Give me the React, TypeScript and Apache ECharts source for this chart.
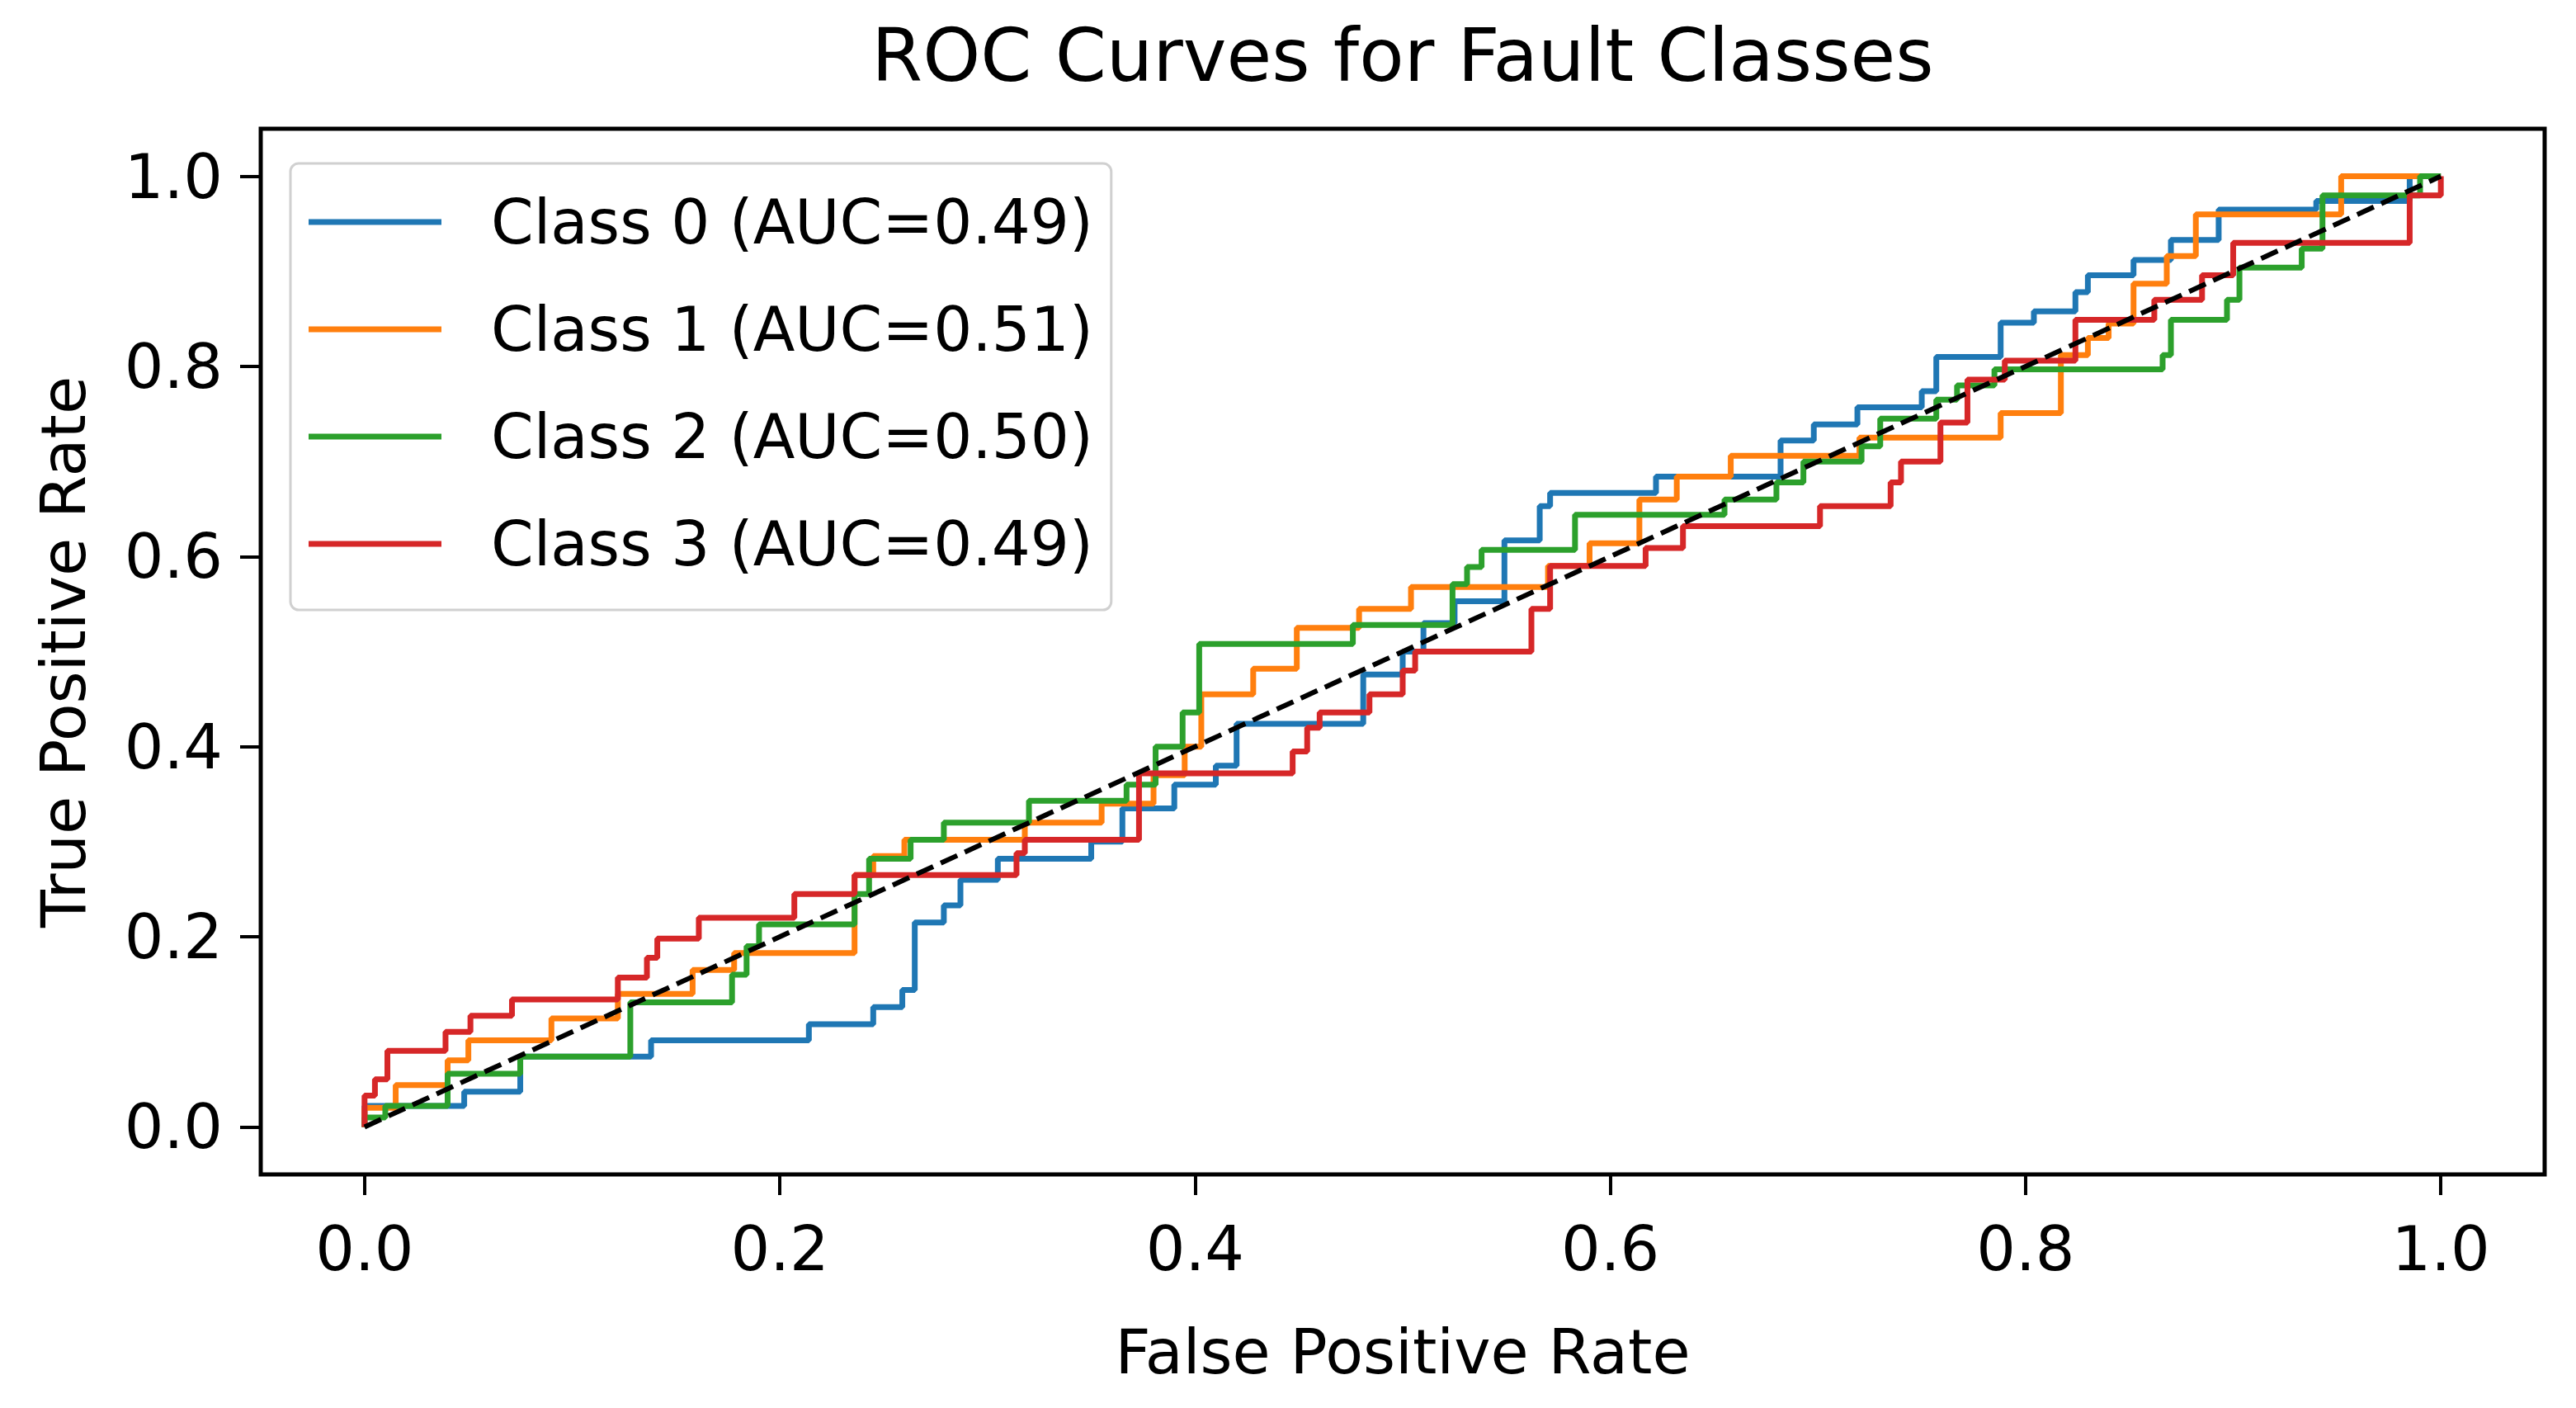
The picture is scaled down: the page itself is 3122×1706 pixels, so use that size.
import React, { useEffect, useRef } from "react";
import * as echarts from "echarts";

const titleText = "ROC Curves for Fault Classes";
const xAxisTitle = "False Positive Rate";
const yAxisTitle = "True Positive Rate";
const classNames = [
  "Class 0 (AUC=0.49)",
  "Class 1 (AUC=0.51)",
  "Class 2 (AUC=0.50)",
  "Class 3 (AUC=0.49)",
];
const classColors = ["#1f77b4", "#ff7f0e", "#2ca02c", "#d62728"];
const tickValues = [0, 0.2, 0.4, 0.6, 0.8, 1.0];

// Each class: FPR where TPR jumps, and the TPR level reached at that FPR
const class0JumpFpr = [0, 0.048, 0.075, 0.138, 0.214, 0.245, 0.259, 0.265, 0.279, 0.287, 0.305, 0.35, 0.365, 0.39, 0.41, 0.42, 0.481, 0.5, 0.51, 0.525, 0.549, 0.566, 0.571, 0.622, 0.682, 0.698, 0.719, 0.75, 0.757, 0.788, 0.804, 0.824, 0.83, 0.852, 0.87, 0.893, 0.94, 0.985];
const class0Tpr = [0.022, 0.037, 0.074, 0.091, 0.108, 0.126, 0.144, 0.215, 0.233, 0.26, 0.282, 0.3, 0.335, 0.36, 0.38, 0.424, 0.476, 0.5, 0.53, 0.553, 0.617, 0.653, 0.667, 0.684, 0.722, 0.739, 0.757, 0.774, 0.81, 0.846, 0.858, 0.878, 0.896, 0.912, 0.933, 0.965, 0.974, 1.0];

const class1JumpFpr = [0, 0.015, 0.04, 0.05, 0.09, 0.122, 0.158, 0.178, 0.236, 0.245, 0.26, 0.318, 0.355, 0.38, 0.395, 0.403, 0.428, 0.449, 0.479, 0.504, 0.57, 0.59, 0.614, 0.632, 0.658, 0.72, 0.788, 0.817, 0.83, 0.84, 0.852, 0.868, 0.882, 0.952];
const class1Tpr = [0.02, 0.044, 0.07, 0.091, 0.114, 0.14, 0.165, 0.183, 0.265, 0.285, 0.302, 0.32, 0.34, 0.37, 0.4, 0.455, 0.482, 0.525, 0.545, 0.568, 0.59, 0.614, 0.66, 0.684, 0.706, 0.725, 0.751, 0.812, 0.83, 0.845, 0.887, 0.916, 0.96, 1.0];

const class2JumpFpr = [0, 0.01, 0.04, 0.075, 0.128, 0.177, 0.184, 0.19, 0.236, 0.243, 0.263, 0.279, 0.32, 0.367, 0.381, 0.394, 0.402, 0.476, 0.524, 0.531, 0.538, 0.583, 0.655, 0.68, 0.693, 0.721, 0.73, 0.757, 0.767, 0.785, 0.866, 0.87, 0.897, 0.903, 0.933, 0.943, 0.99];
const class2Tpr = [0.01, 0.022, 0.056, 0.074, 0.131, 0.16, 0.19, 0.213, 0.245, 0.282, 0.302, 0.32, 0.343, 0.36, 0.4, 0.436, 0.508, 0.528, 0.571, 0.589, 0.607, 0.644, 0.66, 0.678, 0.7, 0.716, 0.745, 0.765, 0.78, 0.797, 0.812, 0.849, 0.87, 0.904, 0.924, 0.98, 1.0];

const class3JumpFpr = [0, 0.005, 0.011, 0.039, 0.051, 0.071, 0.122, 0.136, 0.141, 0.161, 0.207, 0.236, 0.314, 0.318, 0.373, 0.447, 0.454, 0.46, 0.484, 0.5, 0.506, 0.562, 0.571, 0.617, 0.635, 0.701, 0.735, 0.74, 0.759, 0.772, 0.79, 0.824, 0.862, 0.885, 0.9, 0.985, 1.0];
const class3Tpr = [0.033, 0.05, 0.08, 0.1, 0.117, 0.134, 0.157, 0.178, 0.198, 0.22, 0.245, 0.265, 0.288, 0.302, 0.372, 0.395, 0.42, 0.436, 0.455, 0.48, 0.5, 0.545, 0.59, 0.609, 0.632, 0.653, 0.678, 0.7, 0.741, 0.786, 0.806, 0.849, 0.87, 0.896, 0.93, 0.98, 1.0];

const chanceLine = [
  [0, 0],
  [1, 1],
];

function stairs(jumpFpr: number[], tpr: number[]): number[][] {
  const pts: number[][] = [[0, 0]];
  let prev = 0;
  for (let i = 0; i < jumpFpr.length; i++) {
    pts.push([jumpFpr[i], prev]);
    pts.push([jumpFpr[i], tpr[i]]);
    prev = tpr[i];
  }
  pts.push([1, prev]);
  return pts;
}

const FONT = "DejaVu Sans";

export default function App() {
  const ref = useRef<HTMLDivElement>(null);
  useEffect(() => {
    if (!ref.current) return;
    const chart = echarts.init(ref.current, undefined, { renderer: "svg" });
    const curves = [
      stairs(class0JumpFpr, class0Tpr),
      stairs(class1JumpFpr, class1Tpr),
      stairs(class2JumpFpr, class2Tpr),
      stairs(class3JumpFpr, class3Tpr),
    ];
    const axisCommon = {
      type: "value" as const,
      min: -0.05,
      max: 1.05,
      axisLine: { show: false, onZero: false },
      splitLine: { show: false },
      minorTick: { show: false },
      axisTick: {
        show: true,
        length: 25,
        lineStyle: { color: "#000", width: 4 },
        customValues: tickValues,
      },
    };
    chart.setOption({
      animation: false,
      backgroundColor: "#ffffff",
      grid: {
        left: 316,
        top: 156,
        width: 2768,
        height: 1267,
        show: true,
        borderColor: "#000",
        borderWidth: 5,
        backgroundColor: "transparent",
      },
      xAxis: {
        ...axisCommon,
        axisLabel: {
          customValues: tickValues,
          formatter: (v: number) => v.toFixed(1),
          fontSize: 75,
          fontFamily: FONT,
          color: "#000",
          margin: 52,
        },
      },
      yAxis: {
        ...axisCommon,
        axisLabel: {
          customValues: tickValues,
          formatter: (v: number) => v.toFixed(1),
          fontSize: 75,
          fontFamily: FONT,
          color: "#000",
          margin: 46,
        },
      },
      legend: {
        data: classNames,
        orient: "vertical",
        left: 352,
        top: 198,
        padding: [31, 22, 40, 22],
        itemGap: 50,
        itemWidth: 161,
        itemHeight: 7,
        icon: "rect",
        backgroundColor: "rgba(255,255,255,0.8)",
        borderColor: "#d0d0d0",
        borderWidth: 3,
        borderRadius: 10,
        textStyle: {
          fontSize: 74,
          fontFamily: FONT,
          color: "#000",
          lineHeight: 80,
          padding: [0, 0, 0, 55],
        },
      },
      graphic: [
        {
          type: "text",
          x: 1700,
          y: 67,
          style: {
            text: titleText,
            fontSize: 89,
            fontFamily: FONT,
            fill: "#000",
            align: "center",
            verticalAlign: "middle",
            textAlign: "center",
            textVerticalAlign: "middle",
          },
        },
        {
          type: "text",
          x: 1700,
          y: 1638,
          style: {
            text: xAxisTitle,
            fontSize: 75,
            fontFamily: FONT,
            fill: "#000",
            align: "center",
            verticalAlign: "middle",
            textAlign: "center",
            textVerticalAlign: "middle",
          },
        },
        {
          type: "text",
          x: 77,
          y: 790,
          rotation: Math.PI / 2,
          style: {
            text: yAxisTitle,
            fontSize: 75,
            fontFamily: FONT,
            fill: "#000",
            align: "center",
            verticalAlign: "middle",
            textAlign: "center",
            textVerticalAlign: "middle",
          },
        },
      ],
      series: [
        ...curves.map((data, i) => ({
          name: classNames[i],
          type: "line",
          data,
          symbol: "none",
          showSymbol: false,
          color: classColors[i],
          itemStyle: { color: classColors[i] },
          lineStyle: { color: classColors[i], width: 7 },
          emphasis: { disabled: true },
        })),
        {
          name: "Chance",
          type: "line",
          data: chanceLine,
          symbol: "none",
          showSymbol: false,
          lineStyle: { color: "#000", width: 6, type: [22, 10] },
          emphasis: { disabled: true },
          z: 5,
        },
      ],
    });
    return () => chart.dispose();
  }, []);
  return (
    <div
      ref={ref}
      style={{ position: "fixed", left: 0, top: 0, width: 3122, height: 1706 }}
    />
  );
}
